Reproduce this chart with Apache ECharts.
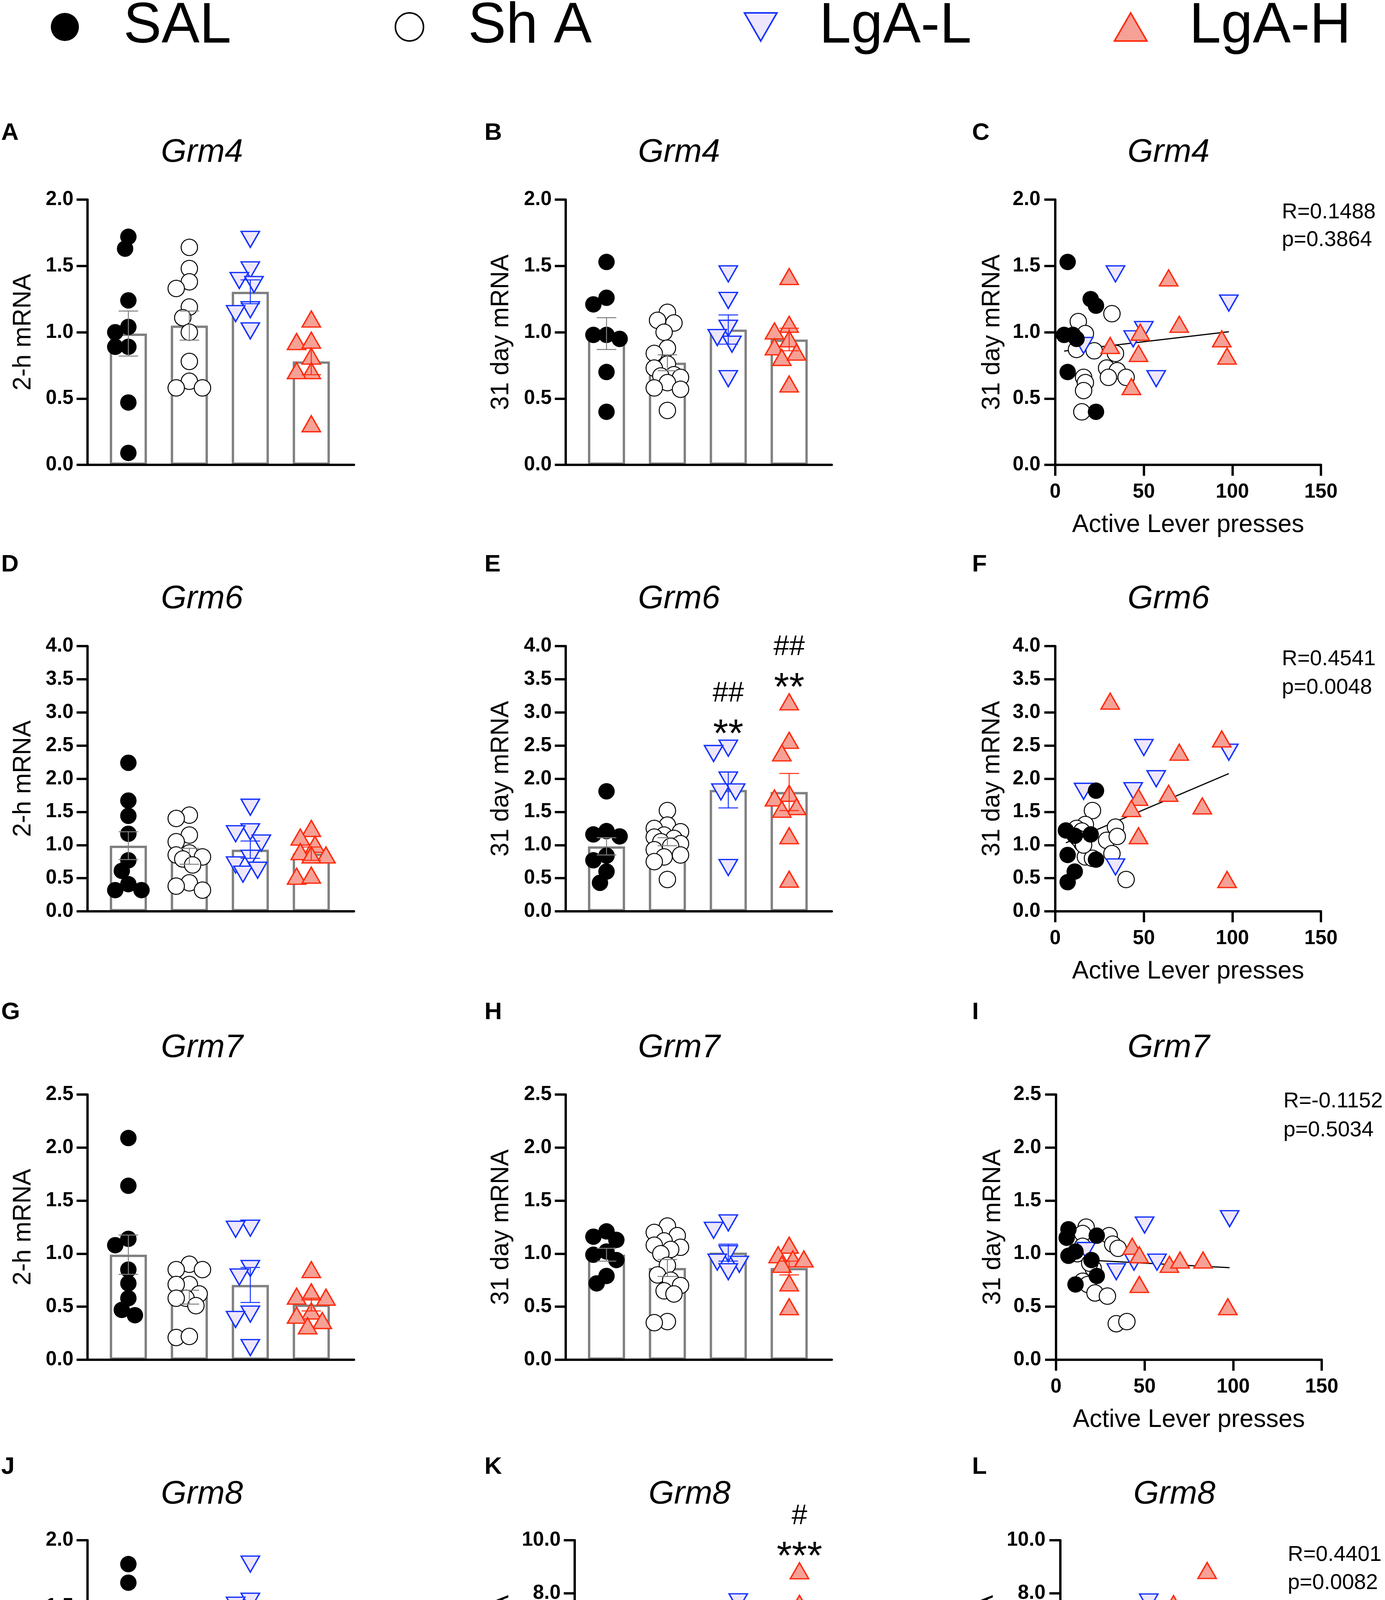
<!DOCTYPE html>
<html>
<head>
<meta charset="utf-8">
<script src="https://cdn.jsdelivr.net/npm/echarts@6/dist/echarts.min.js"></script>
<style>
html,body{margin:0;padding:0;background:#fff;}
#chart{width:3545px;height:4817px;}
</style>
</head>
<body>
<div id="chart"></div>
<script>
// ================= DATA =================
const groupNames = ['SAL', 'Sh A', 'LgA-L', 'LgA-H'];
const panelLetters = ['A','B','C','D','E','F','G','H','I','J','K','L'];
const geneTitles = ['Grm4','Grm4','Grm4','Grm6','Grm6','Grm6','Grm7','Grm7','Grm7','Grm8','Grm8','Grm8'];
const yNames = ['2-h mRNA','31 day mRNA','31 day mRNA'];
const xNameScatter = 'Active Lever presses';

// A – Grm4, 2-h
const A_SAL  = [1.72, 1.63, 1.24, 1.04, 1.00, 0.89, 0.89, 0.47, 0.09];
const A_ShA  = [1.64, 1.48, 1.38, 1.33, 1.19, 1.11, 1.00, 0.78, 0.63, 0.58, 0.58];
const A_LgAL = [1.70, 1.47, 1.39, 1.36, 1.17, 1.14, 1.01];
const A_LgAH = [1.10, 0.93, 0.94, 0.82, 0.71, 0.71, 0.31];
const A_mean = [0.99, 1.05, 1.305, 0.78];
const A_sem  = [0.17, 0.11, 0.09, 0.10];

// B – Grm4, 31 day
const B_SAL  = [1.53, 1.26, 1.21, 0.98, 0.98, 0.95, 0.70, 0.40];
const B_ShA  = [1.15, 1.09, 1.07, 1.00, 0.88, 0.84, 0.76, 0.73, 0.68, 0.67, 0.66, 0.62, 0.58, 0.57, 0.41];
const B_LgAL = [1.44, 1.24, 1.03, 0.91, 0.96, 0.65];
const B_LgAH = [1.42, 1.06, 1.01, 0.95, 0.89, 0.81, 0.85, 0.61];
const B_mean = [0.99, 0.77, 1.02, 0.945];
const B_sem  = [0.12, 0.06, 0.11, 0.085];

// C – Grm4 vs active lever presses [presses, mRNA]
const C_SAL  = [[7,1.53],[20,1.25],[23,1.20],[5,0.98],[10,0.98],[12,0.95],[7,0.70],[23,0.40]];
const C_ShA  = [[13,1.08],[17,0.99],[12,0.87],[22,0.86],[32,1.14],[34,0.84],[29,0.73],[35,0.71],[30,0.66],[40,0.66],[16,0.66],[17,0.62],[16,0.56],[15,0.40]];
const C_LgAL = [[34,1.44],[98,1.22],[50,1.02],[44,0.95],[16,0.90],[57,0.65]];
const C_LgAH = [[64,1.41],[70,1.06],[48,1.00],[94,0.95],[31,0.90],[47,0.84],[97,0.82],[43,0.59]];
const C_stats = ['R=0.1488', 'p=0.3864'];

// D – Grm6, 2-h
const D_SAL  = [2.24, 1.67, 1.44, 1.17, 0.77, 0.61, 0.41, 0.32, 0.32];
const D_ShA  = [1.45, 1.40, 1.15, 1.05, 0.88, 0.85, 0.82, 0.79, 0.70, 0.43, 0.38, 0.32];
const D_LgAL = [1.57, 1.20, 1.17, 1.03, 0.80, 0.70, 0.56, 0.62];
const D_LgAH = [1.25, 1.12, 1.01, 0.90, 0.85, 0.85, 0.53, 0.545];
const D_mean = [0.99, 0.83, 0.93, 0.87];
const D_sem  = [0.21, 0.12, 0.13, 0.10];

// E – Grm6, 31 day
const E_SAL  = [1.81, 1.21, 1.16, 1.13, 0.84, 0.77, 0.60, 0.43];
const E_ShA  = [1.52, 1.30, 1.25, 1.20, 1.15, 1.12, 1.10, 1.05, 1.02, 0.98, 0.93, 0.85, 0.82, 0.75, 0.48];
const E_LgAL = [2.46, 2.38, 1.98, 1.80, 1.80, 0.66];
const E_LgAH = [3.16, 2.58, 2.39, 1.78, 1.71, 1.58, 1.54, 1.14, 0.485];
const E_mean = [0.98, 1.05, 1.83, 1.80];
const E_sem  = [0.13, 0.06, 0.27, 0.28];
const E_stars  = ['', '', '**', '**'];
const E_hashes = ['', '', '##', '##'];

// F – Grm6 vs presses
const F_SAL  = [[23,1.82],[6,1.22],[11,1.14],[20,1.16],[7,0.85],[23,0.78],[11,0.60],[7,0.44]];
const F_ShA  = [[21,1.52],[17,1.31],[12,1.25],[15,1.21],[15,1.03],[17,0.82],[21,0.80],[29,1.07],[34,1.27],[35,1.13],[32,0.87],[40,0.48],[13,1.10],[16,1.00]];
const F_LgAL = [[16,1.81],[50,2.47],[57,2.00],[44,1.82],[98,2.40],[34,0.67]];
const F_LgAH = [[31,3.17],[94,2.60],[70,2.40],[64,1.78],[47,1.72],[43,1.55],[83,1.59],[47,1.14],[97,0.48]];
const F_stats = ['R=0.4541', 'p=0.0048'];

// G – Grm7, 2-h
const G_SAL  = [2.09, 1.64, 1.14, 1.08, 0.85, 0.72, 0.58, 0.47, 0.42];
const G_ShA  = [0.90, 0.85, 0.85, 0.71, 0.71, 0.62, 0.58, 0.58, 0.51, 0.21, 0.22];
const G_LgAL = [1.24, 1.23, 0.86, 0.78, 0.43, 0.38, 0.115];
const G_LgAH = [0.85, 0.59, 0.60, 0.64, 0.46, 0.37, 0.42, 0.32];
const G_mean = [0.99, 0.59, 0.705, 0.52];
const G_sem  = [0.185, 0.065, 0.165, 0.06];

// H – Grm7, 31 day
const H_SAL  = [1.21, 1.16, 1.13, 1.02, 0.99, 0.94, 0.79, 0.72];
const H_ShA  = [1.26, 1.20, 1.17, 1.12, 1.08, 1.06, 1.04, 1.00, 0.89, 0.80, 0.75, 0.70, 0.65, 0.62, 0.36, 0.35];
const H_LgAL = [1.29, 1.22, 1.00, 0.92, 0.90, 0.83];
const H_LgAH = [1.08, 0.99, 0.95, 0.95, 0.90, 0.725, 0.50];
const H_mean = [0.99, 0.865, 1.01, 0.865];
const H_sem  = [0.06, 0.08, 0.08, 0.065];

// I – Grm7 vs presses
const I_SAL  = [[7,1.23],[6,1.15],[23,1.17],[11,1.02],[7,0.98],[20,0.94],[23,0.79],[11,0.71]];
const I_ShA  = [[17,1.25],[15,1.19],[30,1.17],[15,1.07],[32,1.09],[35,1.05],[12,1.00],[21,0.86],[15,0.74],[18,0.71],[22,0.63],[29,0.60],[34,0.34],[40,0.36],[19,0.91]];
const I_LgAL = [[50,1.27],[98,1.33],[17,1.03],[44,0.92],[57,0.92],[34,0.83]];
const I_LgAH = [[43,1.07],[47,0.99],[64,0.90],[70,0.94],[83,0.94],[47,0.71],[97,0.50]];
const I_stats = ['R=-0.1152', 'p=0.5034'];

// J – Grm8, 2-h
const J_SAL  = [1.82, 1.68, 1.11, 0.95, 0.84, 0.80, 0.67, 0.64, 0.48];
const J_ShA  = [1.30, 1.04, 1.04, 0.87, 0.75, 0.61, 0.62, 0.57, 0.38, 0.31];
const J_LgAL = [1.82, 1.54, 1.51, 0.81, 0.72, 0.48, 0.47, 0.37, 0.26];
const J_LgAH = [1.04, 0.85, 0.71, 0.75, 0.52, 0.475, 0.43, 0.18];
const J_mean = [0.99, 0.74, 0.88, 0.61];
const J_sem  = [0.155, 0.10, 0.19, 0.095];

// K – Grm8, 31 day
const K_SAL  = [1.63, 1.23, 1.14, 0.96, 0.90, 0.75, 0.62, 0.60];
const K_ShA  = [6.47, 5.35, 5.00, 4.23, 3.92, 3.85, 3.20, 1.57, 0.91, 0.51, 0.51, 0.48, 0.55];
const K_LgAL = [7.68, 5.08, 4.18, 1.02, 1.20, 1.06];
const K_LgAH = [8.85, 7.62, 6.49, 6.36, 6.16, 6.05, 3.44, 0.97, 0.88];
const K_mean = [0.93, 2.80, 3.33, 5.20];
const K_sem  = [0.12, 0.60, 1.10, 0.90];
const K_stars  = ['', '', '', '***'];
const K_hashes = ['', '', '', '#'];

// L – Grm8 vs presses
const L_SAL  = [[7,1.62],[6,1.15],[7,0.99],[11,0.63],[19,0.94],[24,0.94],[23,0.57],[9,0.90]];
const L_ShA  = [[18,6.48],[16,5.36],[34,4.99],[15,4.25],[21,3.92],[22,3.90],[16,3.22],[29,1.62],[32,0.99],[12,0.47],[17,0.52],[30,0.55],[40,0.50]];
const L_LgAL = [[50,7.67],[57,5.10],[44,4.18],[16,1.04],[34,1.10],[98,1.23]];
const L_LgAH = [[83,8.86],[64,7.61],[70,6.48],[94,6.37],[31,6.04],[43,6.17],[97,3.45],[47,0.96],[47,0.86]];
const L_stats = ['R=0.4401', 'p=0.0082'];

// axis ranges / ticks
const yMaxes    = [2, 2, 2, 4, 4, 4, 2.5, 2.5, 2.5, 2, 10, 10];
const yIntervals= [0.5,0.5,0.5,0.5,0.5,0.5,0.5,0.5,0.5,0.5,2,2];
const xScatterTicks = {min: 0, max: 150, interval: 50};

// ================= LAYOUT / STYLE =================
const FONT = '"Liberation Sans", Arial, Helvetica, sans-serif';
const rowTop = [511, 1654, 2802, 3943];
const rowH = 679;
const titleY = [391, 1534, 2683, 3826];
const letterY = [341, 1446, 2592, 3756];
const colLeft = [224, 1448, 2701];
const colWidth = [682, 681, 680];
const titleX = [517, 1738, 2991];
const letterX = [3, 1240, 2488];
const statsX = 3281;
const legendCX = [166, 1046, 1945, 2892];
const legendHalfIcon = [36, 36, 41.5, 41.5];

const SYMBOLS = ['circle', 'circle', 'path://M0,0L100,0L50,86.6Z', 'path://M50,0L100,86.6L0,86.6Z'];
const SIZES = [42, 42, [47, 41], [47, 41]];
const SWARM_D = [42, 42, 47, 47];
const STYLES = [
  {color: '#000000', borderColor: '#000000', borderWidth: 0, opacity: 1},
  {color: '#ffffff', borderColor: '#000000', borderWidth: 2.5, opacity: 1},
  {color: '#EEE7FB', borderColor: '#1433FF', borderWidth: 3.5, opacity: 1},
  {color: '#F6A196', borderColor: '#FF2B0D', borderWidth: 3.5, opacity: 1}
];
const ERR_COLORS = ['#7f7f7f', '#7f7f7f', '#1433FF', '#FF2B0D'];
const XMIN = -0.67, XMAX = 3.7;

const option = {
  animation: false,
  backgroundColor: '#ffffff',
  textStyle: {fontFamily: FONT},
  legend: [],
  grid: [], xAxis: [], yAxis: [], series: [], graphic: []
};

// legend
groupNames.forEach((g, i) => {
  option.legend.push({
    data: [g], left: legendCX[i] - legendHalfIcon[i], top: -4, padding: 0,
    itemWidth: 290, itemHeight: 72, symbolKeepAspect: true, selectedMode: false,
    itemStyle: {borderWidth: i === 0 ? 0 : 4, opacity: 1},
    textStyle: {fontSize: 146, color: '#000', fontFamily: FONT}
  });
});

function swarm(vals, d, pxX, pxY) {
  const order = vals.map((v, k) => k).sort((a, b) => vals[b] - vals[a]);
  const placed = [], offs = [];
  const step = 0.2 * d, thr = 0.75 * d, nMax = 4;
  const cands = [0];
  for (let j = 1; j <= nMax; j++) { cands.push(-j * step, j * step); }
  order.forEach(k => {
    const y = vals[k] * pxY;
    let best = 0, bestDist = -1;
    for (const o of cands) {
      const md = placed.length ? Math.min(...placed.map(q => Math.hypot(q[0] - o, q[1] - y))) : Infinity;
      if (md >= thr) { best = o; bestDist = md; break; }
      if (md > bestDist) { best = o; bestDist = md; }
    }
    placed.push([best, y]);
    offs[k] = best / pxX;
  });
  return offs;
}

function yAxisDef(i, yMax, interval, name, nameGap, margin) {
  return {
    type: 'value', gridIndex: i, min: 0, max: yMax, interval: interval, z: 5,
    axisLine: {show: true, onZero: false, lineStyle: {color: '#000', width: 6}},
    axisTick: {show: true, inside: false, length: 28, lineStyle: {color: '#000', width: 6}},
    axisLabel: {show: true, margin: margin, formatter: v => v.toFixed(1), fontSize: 51, fontWeight: 'bold', color: '#000', fontFamily: FONT},
    splitLine: {show: false},
    name: name, nameLocation: 'middle', nameRotate: 90, nameGap: nameGap,
    nameTextStyle: {fontSize: 64, color: '#000', fontFamily: FONT}
  };
}

function errRender(params, api) {
  const k = api.value(0), m = api.value(1), s = api.value(2);
  const t = api.coord([k, m + s]), b = api.coord([k, m - s]);
  const st = {stroke: ERR_COLORS[k], lineWidth: 2.5};
  const h = 25;
  return {type: 'group', children: [
    {type: 'line', shape: {x1: t[0], y1: t[1], x2: b[0], y2: b[1]}, style: st},
    {type: 'line', shape: {x1: t[0] - h, y1: t[1], x2: t[0] + h, y2: t[1]}, style: st},
    {type: 'line', shape: {x1: b[0] - h, y1: b[1], x2: b[0] + h, y2: b[1]}, style: st}
  ]};
}

function addHeader(i, tx, lx) {
  const row = Math.floor(i / 3);
  option.graphic.push({type: 'text', x: tx, y: titleY[row], z: 20,
    style: {text: geneTitles[i], fontSize: 84, fontStyle: 'italic', fontFamily: FONT, fill: '#000', align: 'center', verticalAlign: 'middle'}});
  option.graphic.push({type: 'text', x: lx, y: letterY[row], z: 20,
    style: {text: panelLetters[i], fontSize: 62, fontWeight: 'bold', fontFamily: FONT, fill: '#000', align: 'left', verticalAlign: 'middle'}});
}

function addBarPanel(i, p) {
  const row = Math.floor(i / 3), col = i % 3;
  const left = p.left != null ? p.left : colLeft[col];
  const width = p.width != null ? p.width : colWidth[col];
  option.grid.push({left: left, top: rowTop[row], width: width, height: rowH, outerBoundsMode: 'none'});
  option.xAxis.push({type: 'value', gridIndex: i, min: XMIN, max: XMAX, z: 5,
    axisLine: {show: true, onZero: false, lineStyle: {color: '#000', width: 6}},
    axisTick: {show: false}, axisLabel: {show: false}, splitLine: {show: false}});
  option.yAxis.push(yAxisDef(i, yMaxes[i], yIntervals[i], yNames[col], p.nameGap, 36));
  const pxX = width / (XMAX - XMIN), pxY = rowH / yMaxes[i];
  option.series.push({type: 'bar', xAxisIndex: i, yAxisIndex: i, barWidth: 95, z: 2, silent: true,
    data: p.mean.map((m, k) => [k, m]),
    itemStyle: {color: '#ffffff', borderColor: '#808080', borderWidth: 6, opacity: 1}});
  p.groups.forEach((vals, g) => {
    const offs = swarm(vals, SWARM_D[g], pxX, pxY);
    option.series.push({type: 'scatter', name: groupNames[g], xAxisIndex: i, yAxisIndex: i, z: 6,
      symbol: SYMBOLS[g], symbolSize: SIZES[g], itemStyle: STYLES[g],
      data: vals.map((v, k) => [g + offs[k], v])});
  });
  option.series.push({type: 'custom', xAxisIndex: i, yAxisIndex: i, z: 7, silent: true,
    data: p.mean.map((m, k) => [k, m, p.sem[k]]), renderItem: errRender});
  if (p.stars) {
    const ann = [];
    p.stars.forEach((t, k) => { if (t) ann.push({v: [k, Math.max(...p.groups[k]) + 0.08 * yMaxes[i]], t: t, fs: 100, dy: 22}); });
    p.hashes.forEach((t, k) => { if (t) ann.push({v: [k, Math.max(...p.groups[k]) + 0.205 * yMaxes[i]], t: t, fs: 72, dy: 0}); });
    option.series.push({type: 'custom', xAxisIndex: i, yAxisIndex: i, z: 8, silent: true, clip: false,
      data: ann.map(a => a.v),
      renderItem: (params, api) => {
        const a = ann[params.dataIndex];
        const c = api.coord([api.value(0), api.value(1)]);
        return {type: 'text', x: c[0], y: c[1] + a.dy,
          style: {text: a.t, fontSize: a.fs, fontFamily: FONT, fill: '#000', align: 'center', verticalAlign: 'middle'}};
      }});
  }
  addHeader(i, p.titleX != null ? p.titleX : titleX[col], letterX[col]);
}

function linFit(pts) {
  const n = pts.length;
  let sx = 0, sy = 0, sxx = 0, sxy = 0;
  pts.forEach(([x, y]) => { sx += x; sy += y; sxx += x * x; sxy += x * y; });
  const b = (n * sxy - sx * sy) / (n * sxx - sx * sx);
  const a = (sy - b * sx) / n;
  const xs = pts.map(q => q[0]);
  const x0 = Math.min(...xs), x1 = Math.max(...xs);
  return [[x0, a + b * x0], [x1, a + b * x1]];
}

function addScatterPanel(i, p) {
  const row = Math.floor(i / 3), col = 2;
  const left = p.left != null ? p.left : colLeft[col];
  const width = p.width != null ? p.width : colWidth[col];
  option.grid.push({left: left, top: rowTop[row], width: width, height: rowH, outerBoundsMode: 'none'});
  option.xAxis.push({type: 'value', gridIndex: i, min: xScatterTicks.min, max: xScatterTicks.max, interval: xScatterTicks.interval, z: 5,
    axisLine: {show: true, onZero: false, lineStyle: {color: '#000', width: 6}},
    axisTick: {show: true, inside: false, length: 28, lineStyle: {color: '#000', width: 6}},
    axisLabel: {show: true, margin: 44, fontSize: 51, fontWeight: 'bold', color: '#000', fontFamily: FONT},
    splitLine: {show: false},
    name: xNameScatter, nameLocation: 'middle', nameGap: 122,
    nameTextStyle: {fontSize: 64, color: '#000', fontFamily: FONT}});
  option.yAxis.push(yAxisDef(i, yMaxes[i], yIntervals[i], yNames[col], p.nameGap, 38));
  const all = [].concat(...p.groups);
  [1, 2, 3].forEach(g => {
    option.series.push({type: 'scatter', name: groupNames[g], xAxisIndex: i, yAxisIndex: i, z: 6,
      symbol: SYMBOLS[g], symbolSize: SIZES[g], itemStyle: STYLES[g], data: p.groups[g]});
  });
  option.series.push({type: 'line', xAxisIndex: i, yAxisIndex: i, z: 6, silent: true, symbol: 'none', showSymbol: false,
    data: linFit(all), lineStyle: {color: '#000', width: 3, opacity: 1}});
  option.series.push({type: 'scatter', name: groupNames[0], xAxisIndex: i, yAxisIndex: i, z: 6,
    symbol: SYMBOLS[0], symbolSize: SIZES[0], itemStyle: STYLES[0], data: p.groups[0]});
  const rY = [544, 1688, 2820, 3981], pY = [615, 1761, 2894, 4053];
  const sx = p.statsX != null ? p.statsX : statsX;
  option.graphic.push({type: 'text', x: sx, y: rY[row], z: 20,
    style: {text: p.stats[0], fontSize: 55, fontFamily: FONT, fill: '#000', align: 'left', verticalAlign: 'middle'}});
  option.graphic.push({type: 'text', x: sx, y: pY[row], z: 20,
    style: {text: p.stats[1], fontSize: 55, fontFamily: FONT, fill: '#000', align: 'left', verticalAlign: 'middle'}});
  addHeader(i, p.titleX != null ? p.titleX : titleX[col], letterX[col]);
}

addBarPanel(0, {groups: [A_SAL, A_ShA, A_LgAL, A_LgAH], mean: A_mean, sem: A_sem, nameGap: 132});
addBarPanel(1, {groups: [B_SAL, B_ShA, B_LgAL, B_LgAH], mean: B_mean, sem: B_sem, nameGap: 133});
addScatterPanel(2, {groups: [C_SAL, C_ShA, C_LgAL, C_LgAH], stats: C_stats, nameGap: 129});
addBarPanel(3, {groups: [D_SAL, D_ShA, D_LgAL, D_LgAH], mean: D_mean, sem: D_sem, nameGap: 132});
addBarPanel(4, {groups: [E_SAL, E_ShA, E_LgAL, E_LgAH], mean: E_mean, sem: E_sem, nameGap: 133, stars: E_stars, hashes: E_hashes});
addScatterPanel(5, {groups: [F_SAL, F_ShA, F_LgAL, F_LgAH], stats: F_stats, nameGap: 129});
addBarPanel(6, {groups: [G_SAL, G_ShA, G_LgAL, G_LgAH], mean: G_mean, sem: G_sem, nameGap: 132});
addBarPanel(7, {groups: [H_SAL, H_ShA, H_LgAL, H_LgAH], mean: H_mean, sem: H_sem, nameGap: 133});
addScatterPanel(8, {groups: [I_SAL, I_ShA, I_LgAL, I_LgAH], stats: I_stats, nameGap: 129, left: 2703, statsX: 3285});
addBarPanel(9, {groups: [J_SAL, J_ShA, J_LgAL, J_LgAH], mean: J_mean, sem: J_sem, nameGap: 132});
addBarPanel(10, {groups: [K_SAL, K_ShA, K_LgAL, K_LgAH], mean: K_mean, sem: K_sem, nameGap: 156, left: 1471, width: 685, titleX: 1765, stars: K_stars, hashes: K_hashes});
addScatterPanel(11, {groups: [L_SAL, L_ShA, L_LgAL, L_LgAH], stats: L_stats, nameGap: 159, left: 2714, width: 679, titleX: 3006, statsX: 3296});

const chart = echarts.init(document.getElementById('chart'), null, {renderer: 'canvas'});
chart.setOption(option);
</script>
</body>
</html>
